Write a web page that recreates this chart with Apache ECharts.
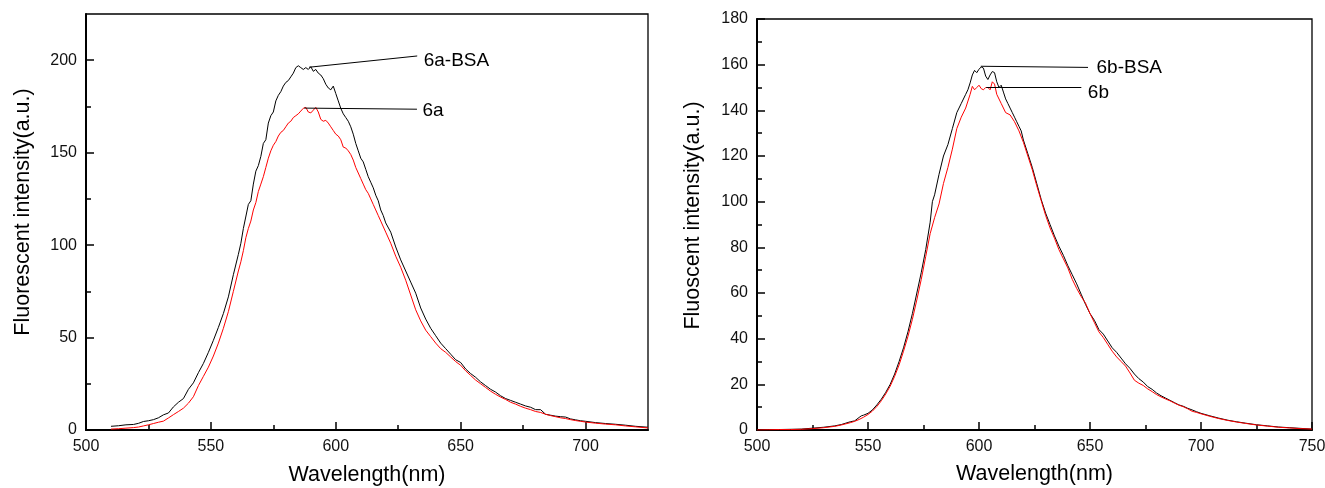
<!DOCTYPE html>
<html>
<head>
<meta charset="utf-8">
<script src="https://cdn.jsdelivr.net/npm/echarts@6/dist/echarts.min.js"></script>
<style>
  html, body { margin: 0; padding: 0; background: #fff; }
  #chart { width: 1325px; height: 488px; }
</style>
</head>
<body>
<div id="chart"></div>
<script>
// ---------- Data ----------
// Left panel: wavelength (nm), intensity (a.u.)
const spec6aBSA = [[510,2.0],[513,2.3],[516,2.8],[519,3.0],[521,3.6],[523,4.6],[525,5.0],[527,5.6],[529,6.6],[531,8.2],[533,9.2],[535,12.5],[537,15.0],[539,17.0],[541,22.0],[543,25.5],[545,31.0],[547,36.0],[549,42.0],[551,48.5],[553,55.5],[555,63.0],[557,72.0],[559,84.0],[561,95.0],[562,101],[563,109],[565,122],[566,124],[567,133],[568,140],[569,143],[570,148],[571,155],[572,157],[573,166],[574,170],[575,172],[576,178],[577,181],[578,183],[579,186],[580,188],[581,189],[582,191],[583,193],[584,196],[585,197],[586,196],[587,195],[588,196],[589,195],[590,196.5],[591,194],[592,195],[593,193],[594,192],[595,190],[596,187],[597,185],[598,184],[599,186],[600,182],[601,178],[602,174],[603,171],[604,169],[605,167],[606,164],[607,160],[608,155],[609,151],[610,147],[611,145],[612,141],[613,137],[614,134],[615,131],[616,127],[617,124],[618,119],[619,116],[620,112],[622,107],[624,99],[626,92],[628,86],[630,80],[632,74],[634,66],[636,60],[638,55],[640,51],[642,47],[644,44],[646,41],[648,38],[650,36.5],[652,33],[654,30.5],[656,28.5],[658,26],[660,24],[662,22],[664,20.5],[666,18.5],[668,17],[670,16],[672,15],[674,14],[676,13],[678,12.3],[680,11],[682,11],[684,8.5],[686,8.0],[688,7.5],[690,7.2],[692,7.0],[694,6.0],[696,5.5],[698,5.0],[700,4.7],[704,4.0],[708,3.5],[712,3.1],[716,2.6],[720,2.0],[725,1.5]];
const spec6a = [[510,0.5],[513,0.7],[516,1.0],[519,1.3],[521,1.6],[523,2.2],[525,2.8],[527,3.5],[529,4.2],[531,4.8],[533,6.5],[535,8.3],[537,10],[539,11.8],[541,14.5],[543,18],[545,24],[547,29],[549,34],[551,40],[553,47],[555,55],[557,64],[559,75],[561,86],[562,91],[563,97],[564,104],[565,109],[566,113],[567,119],[568,123],[569,129],[570,133],[571,137],[572,142],[573,147],[574,151],[575,154],[576,156],[577,159],[578,161],[579,162],[580,164],[581,166],[582,167],[583,169],[584,170],[585,171],[586,172.5],[587,174],[588,174.5],[589,172],[590,171.5],[591,173],[592,174.5],[593,172],[594,168],[595,167],[596,167.5],[597,166],[598,164],[599,162],[600,160],[601,159],[602,157],[603,153],[604,152.5],[605,151],[606,149],[607,146],[608,142],[609,139],[610,136],[611,133],[612,130],[613,128],[614,125],[615,122],[616,119],[617,116],[618,113],[620,107],[622,101],[624,94],[626,88],[628,81],[630,73],[632,65],[634,59],[636,54],[638,50.5],[640,47],[642,44],[644,42],[646,39.5],[648,37],[650,35],[652,32],[654,29.5],[656,27],[658,25],[660,23],[662,21],[664,19.3],[666,17.8],[668,16.5],[670,15],[672,14],[674,12.8],[676,11.8],[678,11],[680,10],[682,9.5],[684,8.5],[686,7.8],[688,7.2],[690,6.6],[692,6.2],[694,5.6],[696,5.1],[698,4.7],[700,4.3],[704,3.7],[708,3.2],[712,2.8],[716,2.2],[720,1.7],[725,1.1]];

// Right panel
const spec6bBSA = [[500,0.1],[505,0.2],[510,0.2],[515,0.3],[520,0.4],[525,0.8],[530,1.2],[535,1.8],[538,2.4],[540,3.0],[542,3.6],[544,4.0],[546,5.5],[547,6.2],[548,6.5],[550,7.3],[552,8.8],[554,11.0],[556,13.5],[558,16.5],[560,20.0],[562,24.5],[564,30.0],[566,36.0],[568,43.0],[570,51.0],[572,60.0],[574,69.0],[576,79.0],[578,91.0],[579,100.0],[580,103.0],[582,112.0],[584,120.0],[586,125.0],[588,132.0],[590,139.0],[592,143.0],[594,147.0],[595,149.0],[596,152.0],[597,155.5],[598,157.5],[599,156.5],[600,158.0],[601,159.0],[602,158.5],[603,155.0],[604,153.5],[605,155.5],[606,157.0],[607,156.5],[608,152.5],[609,150.0],[610,151.0],[611,148.0],[612,145.0],[613,143.0],[614,141.0],[615,139.0],[616,137.0],[617,135.0],[618,133.0],[619,131.0],[620,127.0],[622,121.0],[624,115.0],[626,108.0],[628,101.0],[630,95.0],[632,90.0],[634,85.0],[636,80.5],[638,76.5],[640,72.0],[642,68.0],[644,64.0],[646,59.5],[648,55.0],[650,51.0],[652,48.0],[654,44.0],[656,42.0],[658,39.0],[660,36.0],[662,34.0],[664,31.5],[666,29.0],[668,27.0],[670,24.5],[672,22.5],[674,21.0],[676,19.0],[678,17.8],[680,16.2],[682,15.0],[684,14.0],[686,13.0],[688,12.0],[690,11.0],[692,10.4],[694,9.5],[696,8.8],[698,8.0],[700,7.3],[704,6.2],[708,5.2],[712,4.3],[716,3.6],[720,3.0],[725,2.3],[730,1.8],[735,1.3],[740,1.0],[745,0.7],[750,0.4]];
const spec6b = [[500,0],[505,0.1],[510,0.2],[515,0.2],[520,0.3],[525,0.6],[530,1.0],[535,1.6],[538,2.2],[540,2.7],[542,3.2],[544,3.8],[546,4.6],[548,5.6],[550,6.8],[552,8.3],[554,10.3],[556,12.8],[558,15.8],[560,19.2],[562,23.5],[564,28.5],[566,34.5],[568,41.0],[570,48.5],[572,57.0],[574,66.0],[576,76.0],[578,86.0],[580,93.0],[582,99.0],[584,108.0],[586,115.0],[588,123.0],[590,132.0],[592,137.0],[594,141.0],[596,147.0],[597,150.5],[598,149.0],[599,150.0],[600,151.0],[601,149.5],[602,149.0],[603,150.0],[604,150.0],[605,149.0],[606,152.5],[607,151.5],[608,147.0],[610,143.0],[612,139.0],[614,138.0],[616,135.0],[618,131.0],[620,126.0],[622,120.0],[624,114.0],[626,107.0],[628,100.5],[630,94.0],[632,88.5],[634,84.0],[636,79.0],[638,75.0],[640,71.0],[642,66.0],[644,62.0],[646,58.5],[648,55.5],[650,51.0],[652,47.0],[654,43.0],[656,40.5],[658,37.5],[660,34.5],[662,32.0],[664,30.0],[666,28.0],[668,25.0],[670,21.8],[672,20.5],[674,19.5],[676,18.0],[678,16.8],[680,15.5],[682,14.5],[684,13.6],[686,12.8],[688,11.8],[690,10.9],[692,10.2],[694,9.3],[696,8.2],[698,7.7],[700,7.1],[704,6.0],[708,5.0],[712,4.2],[716,3.5],[720,2.9],[725,2.2],[730,1.7],[735,1.2],[740,0.9],[745,0.6],[750,0.4]];

// Callout lines: [start on curve, end near label] in data units
const callout6aBSA = [[589.3,196.2],[632.6,202.3]];
const callout6a = [[587.4,174.1],[632.5,173.5]];
const callout6bBSA = [[600.8,159.3],[649.1,158.8]];
const callout6b = [[603.3,150.1],[646.1,149.9]];

// Axis ticks
const leftXMajor = [500,550,600,650,700];
const leftXMinor = [525,575,625,675];
const leftYMajor = [0,50,100,150,200];
const leftYMinor = [25,75,125,175];
const rightXMajor = [500,550,600,650,700,750];
const rightXMinor = [525,575,625,675,725];
const rightYMajor = [0,20,40,60,80,100,120,140,160,180];
const rightYMinor = [10,30,50,70,90,110,130,150,170];

// Texts
const xTitle = 'Wavelength(nm)';
const yTitleLeft = 'Fluorescent intensity(a.u.)';
const yTitleRight = 'Fluoscent intensity(a.u.)';

// ---------- Chart ----------
const FONT = '"Liberation Sans", Arial, Helvetica, sans-serif';
const chart = echarts.init(document.getElementById('chart'), null, {renderer: 'canvas'});

function majorAxis(dim, gridIndex, min, max, ticks, name, nameGap, namePad) {
  return {
    type: 'value', gridIndex, min, max,
    position: dim === 'x' ? 'bottom' : 'left',
    name, nameLocation: 'middle', nameGap,
    nameTextStyle: {fontFamily: FONT, fontSize: 21.5, color: '#000', padding: namePad || 0},
    splitLine: {show: false},
    axisLine: {show: true, onZero: false, lineStyle: {color: '#000', width: 2}},
    axisTick: {show: true, inside: true, length: 8, customValues: ticks, lineStyle: {color: '#000', width: 1.5}},
    axisLabel: {show: true, customValues: ticks, margin: 9, fontFamily: FONT, fontSize: 16, color: '#111'},
    minorTick: {show: false}
  };
}
function minorAxis(dim, gridIndex, min, max, ticks) {
  return {
    type: 'value', gridIndex, min, max,
    position: dim === 'x' ? 'bottom' : 'left',
    splitLine: {show: false},
    axisLine: {show: false, onZero: false},
    axisTick: {show: true, inside: true, length: 5, customValues: ticks, lineStyle: {color: '#000', width: 1.5}},
    axisLabel: {show: false}
  };
}
function calloutLine(pts) {
  return {
    symbol: 'none', silent: true, animation: false,
    lineStyle: {color: '#000', width: 1, type: 'solid'},
    emphasis: {disabled: true},
    label: {show: false},
    data: [[{coord: pts[0]}, {coord: pts[1]}]]
  };
}
function calloutText(pts, text, dist, dy) {
  return {
    symbol: 'circle', symbolSize: 1, silent: true, animation: false,
    itemStyle: {color: 'rgba(0,0,0,0)'},
    emphasis: {disabled: true},
    label: {show: true, position: 'right', distance: dist, offset: [0, dy], formatter: text,
            fontFamily: FONT, fontSize: 19, color: '#000'},
    data: [{coord: pts[1]}]
  };
}
function lineSeries(data, color, xi, yi, pts, text, dist, dy) {
  return {
    type: 'line', data, xAxisIndex: xi, yAxisIndex: yi,
    showSymbol: false, symbol: 'none', smooth: false, animation: false,
    lineStyle: {color, width: 1}, itemStyle: {color},
    emphasis: {disabled: true},
    markLine: calloutLine(pts),
    markPoint: calloutText(pts, text, dist, dy)
  };
}

const option = {
  backgroundColor: '#fff',
  animation: false,
  grid: [
    {left: 86, top: 14, width: 562, height: 416, show: true, borderColor: '#000', borderWidth: 1.3,
     backgroundColor: 'transparent', containLabel: false, outerBoundsMode: 'none'},
    {left: 757, top: 19, width: 555, height: 411, show: true, borderColor: '#000', borderWidth: 1.3,
     backgroundColor: 'transparent', containLabel: false, outerBoundsMode: 'none'}
  ],
  xAxis: [
    majorAxis('x', 0, 500, 725, leftXMajor, xTitle, 34),
    minorAxis('x', 0, 500, 725, leftXMinor),
    majorAxis('x', 1, 500, 750, rightXMajor, xTitle, 33),
    minorAxis('x', 1, 500, 750, rightXMinor)
  ],
  yAxis: [
    majorAxis('y', 0, 0, 225, leftYMajor, yTitleLeft, 52, [0, 0, 0, 20]),
    minorAxis('y', 0, 0, 225, leftYMinor),
    majorAxis('y', 1, 0, 180, rightYMajor, yTitleRight, 53, [0, 0, 0, 18]),
    minorAxis('y', 1, 0, 180, rightYMinor)
  ],
  series: [
    lineSeries(spec6aBSA, '#000000', 0, 0, callout6aBSA, '6a-BSA', 6, 4.5),
    lineSeries(spec6a, '#ff0000', 0, 0, callout6a, '6a', 5, 1.5),
    lineSeries(spec6bBSA, '#000000', 2, 2, callout6bBSA, '6b-BSA', 8, 0),
    lineSeries(spec6b, '#ff0000', 2, 2, callout6b, '6b', 6, 5)
  ]
};
chart.setOption(option);
</script>
</body>
</html>
